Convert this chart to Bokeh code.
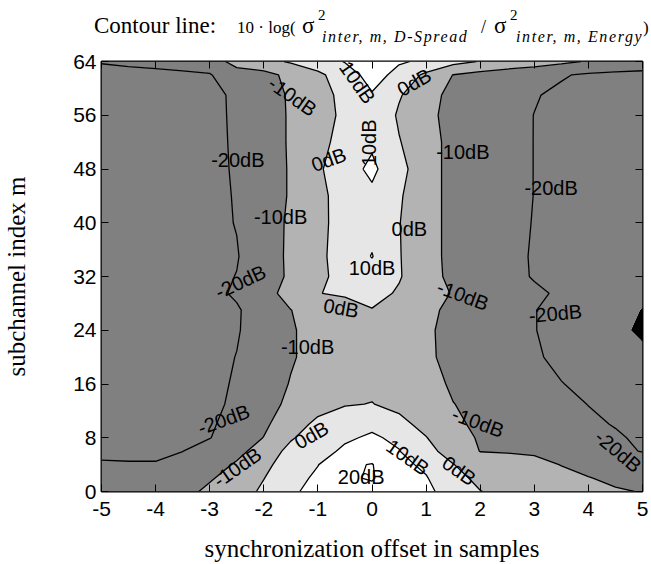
import numpy as np
from bokeh.plotting import figure
from bokeh.layouts import column
from bokeh.models import Range1d, FixedTicker, LinearAxis, Div
from bokeh.embed import file_html
from bokeh.resources import INLINE
from bokeh.core.properties import value

# ---------------- data ----------------
x_offsets = [-5.0, -4.5, -4.0, -3.5, -3.0, -2.5, -2.0, -1.5, -1.0, -0.5, 0.0,
             0.5, 1.0, 1.5, 2.0, 2.5, 3.0, 3.5, 4.0, 4.5, 5.0]
subchannels = [0, 2, 4, 6, 8, 10, 13, 16, 20, 24, 27, 29.5, 32, 35, 40, 44,
               48, 52, 56, 59, 62, 64]
# 10*log10 ratio in dB, one row per subchannel value above
ratio_db = [
    [-16, -15.5, -15, -13, -8, -4, 1.5, 8.5, 13, 17, 18, 16, 12, 6, 0.3, -3, -5, -6.5, -8, -9.3, -10.3],
    [-17, -17, -16.5, -15, -11, -6, -0.2, 6, 12, 19, 20.6, 15, 10.5, 4, -3, -5, -6.5, -8, -9.7, -11.5, -13],
    [-19, -19.6, -19.8, -17, -14, -9, -2, 4, 9.7, 18.5, 20.4, 12, 8.5, 0.3, -5.5, -7, -8, -10.2, -12.5, -14.5, -16],
    [-22, -21.2, -20.6, -20.1, -16, -12.5, -6, 3, 7.5, 11.2, 15, 10.3, 3, -4, -10.2, -10.5, -11, -13, -16, -18.5, -20.3],
    [-23, -22.5, -22, -21.5, -20.3, -15, -9.8, -1, 5, 9, 11, 8.5, 0.3, -6, -11, -13, -14.5, -16, -17.5, -19.3, -21],
    [-25, -24.5, -24, -23, -21, -17, -11.5, -5, 2.5, 4.5, 8.5, 2.3, -2.5, -7.5, -12.5, -14.5, -16, -17.5, -19, -20.3, -21.5],
    [-25.5, -25, -24.5, -23.5, -21.5, -18.8, -13.5, -8, -4, -0.5, 0.2, -2, -5, -9.8, -12.5, -14.5, -16.5, -18.5, -20.1, -21.5, -22.5],
    [-26, -25.5, -25, -24, -22, -19.2, -14.5, -9.5, -5, -2.5, -1.5, -2.5, -6, -11.5, -14, -16, -18, -19.8, -21.5, -23, -24],
    [-26.5, -26, -25.5, -24.5, -22.5, -19.8, -15.5, -10.8, -7, -5, -3.5, -5, -8.5, -12.5, -15, -17, -19.2, -21.5, -24, -26, -28],
    [-26.5, -26, -25.5, -24.5, -23, -20.7, -15.5, -10.8, -7, -4.5, -2, -4, -8.5, -13, -15.5, -17.8, -19.8, -22, -24.5, -28, -31.5],
    [-26.5, -26, -25.5, -24.5, -23, -20.8, -16, -10.1, -7, -5, -0.4, -4, -7, -13, -15, -17.5, -19.8, -22, -24, -27, -30.3],
    [-26, -25.5, -25, -24, -22, -19, -13, -7, -0.3, 1.5, 3, -1, -6.5, -10.5, -14, -16.5, -18.8, -21, -23, -25, -28],
    [-26, -25.5, -25, -24, -22, -19.8, -14.5, -8.5, -2, 3, 6, 0.7, -6, -12.5, -15, -17.8, -20.5, -22, -23, -24, -24],
    [-26, -25.5, -25, -24, -21.8, -20.5, -14.5, -8.3, -2, 4, 10.4, 0.5, -6, -13, -15.5, -18, -20.6, -22, -23, -24, -24],
    [-26, -25.5, -25, -24, -22, -19.7, -14.5, -8.5, -2.3, 3.5, 7, 0.3, -6, -13, -15.5, -17.8, -20.3, -22, -23, -24, -24],
    [-26, -25.5, -25, -24, -22, -19.5, -14.5, -9.2, -2.2, 3.5, 8, 1, -6, -13, -15.5, -17.8, -20.1, -22, -23, -24, -24],
    [-26, -25.5, -25, -24, -22, -19.2, -14.5, -9.2, -1.5, 6, 12, 3, -6, -13, -15.5, -17.8, -20.1, -22, -23, -24, -24],
    [-26, -25.5, -25, -24, -22, -19, -14.5, -9, -3, 3.5, 8.5, 0.5, -6, -13, -15.5, -17.8, -20.1, -22, -23, -24, -24],
    [-26, -25.5, -25, -24, -22, -18.8, -14.5, -9, -4, 2, 8, -1.2, -8, -12.5, -15, -17.5, -20.1, -22, -23, -24, -24],
    [-25, -24.5, -24, -23, -21.5, -19, -14.5, -8.8, -3.5, 2.5, 9.2, 0.8, -6, -13, -15, -17.5, -19.5, -21.5, -22.5, -23, -23.5],
    [-22, -21.3, -21, -20.8, -20.4, -16, -13, -7.5, -2, 5, 14, 7, -2, -10.2, -13, -15.5, -17.5, -19.3, -21.2, -22, -22.5],
    [-19.6, -19.2, -18.9, -18.2, -17, -5, -3, 1, 5, 10.5, 14, 11, 8.5, 3, -0.5, -3, -5, -8, -10.8, -13, -14.5],
]
fill_levels = [-40, -30, -20, -10, 0, 10, 20, 30]
line_levels = [-20, -10, 0, 10, 20]

x_ticks = [-5, -4, -3, -2, -1, 0, 1, 2, 3, 4, 5]
x_tick_labels = ["-5", "-4", "-3", "-2", "-1", "0", "1", "2", "3", "4", "5"]
y_ticks = [0, 8, 16, 24, 32, 40, 48, 56, 64]
y_tick_labels = ["0", "8", "16", "24", "32", "40", "48", "56", "64"]

label_texts = ["-10dB", "-20dB", "0dB", "-10dB", "10dB", "0dB", "10dB", "-10dB",
               "-20dB", "0dB", "10dB", "-20dB", "0dB", "-10dB", "-20dB", "-10dB",
               "0dB", "-10dB", "-20dB", "-10dB", "-20dB", "10dB", "0dB", "20dB"]
label_x = [-1.47, -2.48, -0.8, -1.69, -0.27, 0.78, -0.05, 1.68, 3.31, 0.69, 0.0,
           -2.43, -0.57, -1.19, -2.74, -2.49, -1.12, 1.68, 3.39, 1.96, 4.55, 0.66,
           1.61, -0.2]
label_y = [58.8, 49.4, 49.4, 40.9, 60.9, 60.9, 51.9, 50.6, 45.2, 39.1, 33.3,
           31.2, 27.3, 21.5, 10.7, 3.6, 8.4, 29.2, 26.5, 10.3, 6.0, 5.1, 3.1, 2.1]
label_angle = [-35, 0, 20, 0, -55, 30, 90, 0, 0, 0, 0, 25, -10, 0, 20, 35, 30,
               -20, 5, -20, -40, -35, -35, 0]

title_parts = ["Contour line:", "10 \u00b7 log(", "\u03c3", "2",
               "inter, m, D-Spread", "/", "\u03c3", "2", "inter, m, Energy", ")"]

sans = "Liberation Sans"
serif = "Liberation Serif"

# ---------------- title strip (HTML text) ----------------
part_left = [94, 237, 302, 318, 322, 481, 494, 510, 516, 643]
part_base = [33, 33, 33, 21, 42, 33, 33, 21, 42, 33]
part_size = [23, 17, 23, 15, 16, 18, 23, 15, 16, 17]
part_italic = [False, False, False, False, True, False, False, False, True, False]
spans = []
for txt, lx, bl, sz, it in zip(title_parts, part_left, part_base, part_size, part_italic):
    top_px = bl - 0.8375 * sz
    style = ("position:absolute;left:%dpx;top:%.1fpx;font-size:%dpx;"
             "line-height:1;white-space:nowrap;font-family:'Liberation Serif';"
             "color:black;%s" % (lx, top_px, sz,
                                 "font-style:italic;letter-spacing:1.6px;" if it else ""))
    spans.append('<span style="%s">%s</span>' % (style, txt))
title_html = ('<div style="position:relative;width:651px;height:50px;'
              'margin:0;padding:0;">' + "".join(spans) + "</div>")
title_div = Div(text=title_html, width=651, height=50, margin=0)

# ---------------- main figure ----------------
p = figure(width=651, height=514, output_backend="svg", toolbar_location=None,
           x_range=Range1d(-5, 5), y_range=Range1d(0, 64),
           frame_width=541, frame_height=430,
           min_border_left=101, min_border_right=9, min_border_top=11,
           min_border_bottom=73)
p.title.visible = False
p.background_fill_color = "white"
p.border_fill_color = "white"
p.grid.visible = False
p.outline_line_color = "black"
p.outline_line_width = 2

xs = np.array(x_offsets, dtype=float)
ys = np.array(subchannels, dtype=float)
z = np.array(ratio_db, dtype=float)
p.contour(x=xs, y=ys, z=z, levels=fill_levels,
          fill_color=["#000000", "#808080", "#808080", "#b3b3b3", "#e6e6e6",
                      "#ffffff", "#ffffff"],
          line_color=None)
p.contour(x=xs, y=ys, z=z, levels=line_levels, fill_color=None,
          line_color="black", line_width=1.3)

p.text(x=label_x, y=label_y, text=label_texts, angle=label_angle,
       angle_units="deg", text_align="center", text_baseline="middle",
       text_font=value(sans), text_font_size="20px", text_color="black")

for ax in (p.xaxis[0], p.yaxis[0]):
    ax.axis_line_color = None
    ax.major_tick_in = 7
    ax.major_tick_out = 0
    ax.minor_tick_line_color = None
    ax.major_tick_line_color = "black"
    ax.major_label_text_font = sans
    ax.major_label_text_font_size = "21px"
    ax.major_label_text_color = "black"
    ax.axis_label_text_font = serif
    ax.axis_label_text_font_size = "25px"
    ax.axis_label_text_font_style = "normal"
    ax.axis_label_text_color = "black"

p.xaxis[0].ticker = FixedTicker(ticks=x_ticks)
p.xaxis[0].major_label_overrides = dict(zip(x_ticks, x_tick_labels))
p.xaxis[0].major_label_standoff = 10
p.xaxis[0].axis_label = "synchronization offset in samples"
p.xaxis[0].axis_label_standoff = 16

p.yaxis[0].ticker = FixedTicker(ticks=y_ticks)
p.yaxis[0].major_label_overrides = dict(zip(y_ticks, y_tick_labels))
p.yaxis[0].major_label_standoff = 5
p.yaxis[0].axis_label = "subchannel index m"
p.yaxis[0].axis_label_standoff = 40

top = LinearAxis(ticker=FixedTicker(ticks=x_ticks), axis_line_color=None,
                 major_tick_in=7, major_tick_out=0, minor_tick_line_color=None,
                 major_label_standoff=0,
                 major_label_overrides={k: "" for k in x_ticks})
right = LinearAxis(ticker=FixedTicker(ticks=y_ticks), axis_line_color=None,
                   major_tick_in=7, major_tick_out=0, minor_tick_line_color=None,
                   major_label_standoff=0,
                   major_label_overrides={k: "" for k in y_ticks})
p.add_layout(top, "above")
p.add_layout(right, "right")

layout = column(title_div, p, spacing=0)
open("out.html", "w").write(file_html(layout, INLINE))
